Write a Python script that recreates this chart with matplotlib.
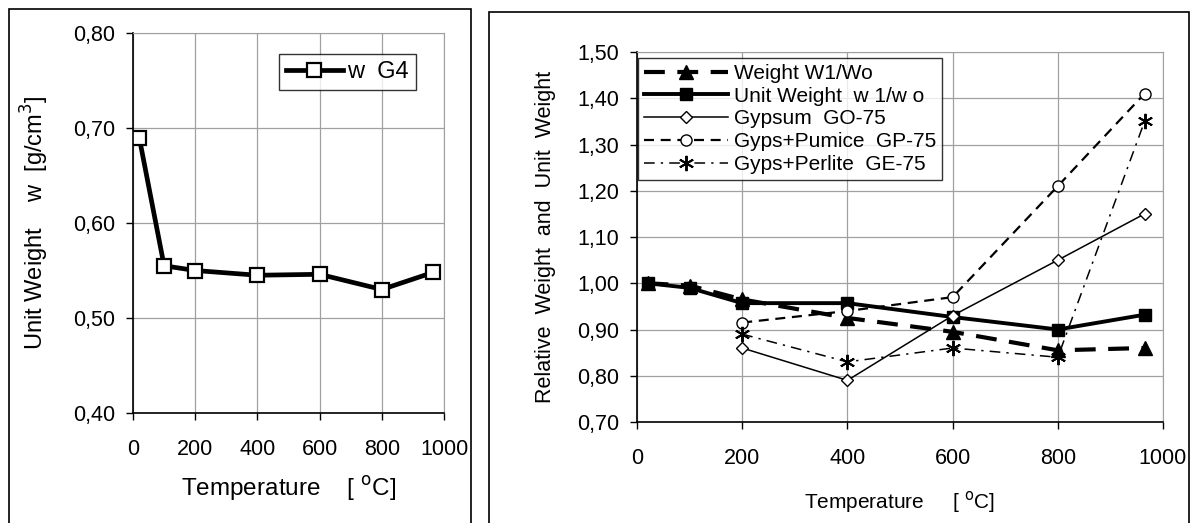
import matplotlib.pyplot as plt
from matplotlib.patches import Rectangle
from matplotlib.ticker import FuncFormatter

# -----------------------------
# Data
# -----------------------------
temp_g4 = [20, 100, 200, 400, 600, 800, 965]
unit_weight_g4 = [0.690, 0.555, 0.550, 0.545, 0.546, 0.530, 0.548]

temp_all = [20, 100, 200, 400, 600, 800, 965]
weight_rel = [1.000, 0.995, 0.965, 0.925, 0.895, 0.855, 0.860]
unit_weight_rel = [1.000, 0.990, 0.957, 0.957, 0.927, 0.900, 0.932]

temp_mix = [200, 400, 600, 800, 965]
gypsum_go75 = [0.860, 0.790, 0.930, 1.050, 1.150]
pumice_gp75 = [0.915, 0.940, 0.970, 1.210, 1.410]
perlite_ge75 = [0.890, 0.830, 0.860, 0.840, 1.350]

plt.rcParams['font.family'] = ['Liberation Sans', 'DejaVu Sans']
comma = FuncFormatter(lambda v, p: f"{v:.2f}".replace(".", ","))

fig = plt.figure(figsize=(11.92, 5.23), dpi=100)
W, H = 1192, 523

# panel frames
fig.patches.append(Rectangle((9 / W, -0.02), (471 - 9) / W, 1.02 - 9 / H,
                             transform=fig.transFigure, fill=False,
                             edgecolor='black', linewidth=1.2))
fig.patches.append(Rectangle((489 / W, -0.02), (1189 - 489) / W, 1.02 - 12 / H,
                             transform=fig.transFigure, fill=False,
                             edgecolor='black', linewidth=1.2))


def style_axes(ax, pad):
    ax.grid(True, color='#a0a0a0', linewidth=0.9)
    ax.set_axisbelow(True)
    for s in ['top', 'right']:
        ax.spines[s].set_color('#a0a0a0')
    for s in ['left', 'bottom']:
        ax.spines[s].set_linewidth(1.2)
    ax.tick_params(direction='out', length=5, width=1, labelsize=15.5)
    ax.tick_params(axis='x', pad=pad)
    ax.tick_params(axis='y', pad=8)
    ax.yaxis.set_major_formatter(comma)


# -----------------------------
# Left chart
# -----------------------------
ax1 = fig.add_axes([133 / W, 1 - 413 / H, (444 - 133) / W, (413 - 33) / H])
ax1.plot(temp_g4, unit_weight_g4, color='black', linewidth=3.4,
         marker='s', markersize=10, markerfacecolor='white',
         markeredgewidth=1.6, label='w  G4')
ax1.set_xlim(0, 1000)
ax1.set_ylim(0.40, 0.80)
ax1.set_xticks(range(0, 1001, 200))
ax1.set_yticks([0.40, 0.50, 0.60, 0.70, 0.80])
style_axes(ax1, 14)
ax1.set_xlabel('Temperature    [ $^{\\rm o}$C]', fontsize=17.5, labelpad=10)
ax1.set_ylabel('Unit Weight    w  [g/cm$^{3}$]', fontsize=17, labelpad=16)
leg1 = ax1.legend(loc='upper right', bbox_to_anchor=(0.91, 0.945),
                  fontsize=17, frameon=True, fancybox=False,
                  edgecolor='black', handlelength=2.4, handletextpad=0.2,
                  borderpad=0.3, borderaxespad=0)
leg1.get_frame().set_linewidth(1.0)

# -----------------------------
# Right chart
# -----------------------------
ax2 = fig.add_axes([637 / W, 1 - 422 / H, (1163 - 637) / W, (422 - 52) / H])
ax2.plot(temp_all, weight_rel, color='black', linewidth=3, dashes=(5, 3),
         marker='^', markersize=10, label='Weight W1/Wo')
ax2.plot(temp_all, unit_weight_rel, color='black', linewidth=2.8,
         marker='s', markersize=8.5, label='Unit Weight  w 1/w o')
ax2.plot(temp_mix, gypsum_go75, color='black', linewidth=1.1,
         marker='D', markersize=6.5, markerfacecolor='white',
         label='Gypsum  GO-75')
ax2.plot(temp_mix, pumice_gp75, color='black', linewidth=1.6, dashes=(4.5, 3),
         marker='o', markersize=8, markerfacecolor='white',
         label='Gyps+Pumice  GP-75')
ax2.plot(temp_mix, perlite_ge75, color='black', linewidth=1.1,
         dashes=(7, 4, 1.5, 4), marker=(6, 2, 0), markersize=11,
         markeredgewidth=1.4, label='Gyps+Perlite  GE-75')
ax2.set_xlim(0, 1000)
ax2.set_ylim(0.70, 1.50)
ax2.set_xticks(range(0, 1001, 200))
ax2.set_yticks([0.70 + 0.1 * i for i in range(9)])
style_axes(ax2, 14)
ax2.set_xlabel('Temperature     [ $^{\\rm o}$C]', fontsize=15, labelpad=14)
ax2.set_ylabel('Relative  Weight  and  Unit  Weight', fontsize=15.5, labelpad=15)
leg2 = ax2.legend(loc='upper left', bbox_to_anchor=(0.002, 0.985),
                  fontsize=15, frameon=True, fancybox=False,
                  edgecolor='black', handlelength=4, handletextpad=0.3,
                  labelspacing=0.18, borderpad=0.3, borderaxespad=0)
leg2.get_frame().set_linewidth(1.0)

fig.savefig('out.png', dpi=100)
